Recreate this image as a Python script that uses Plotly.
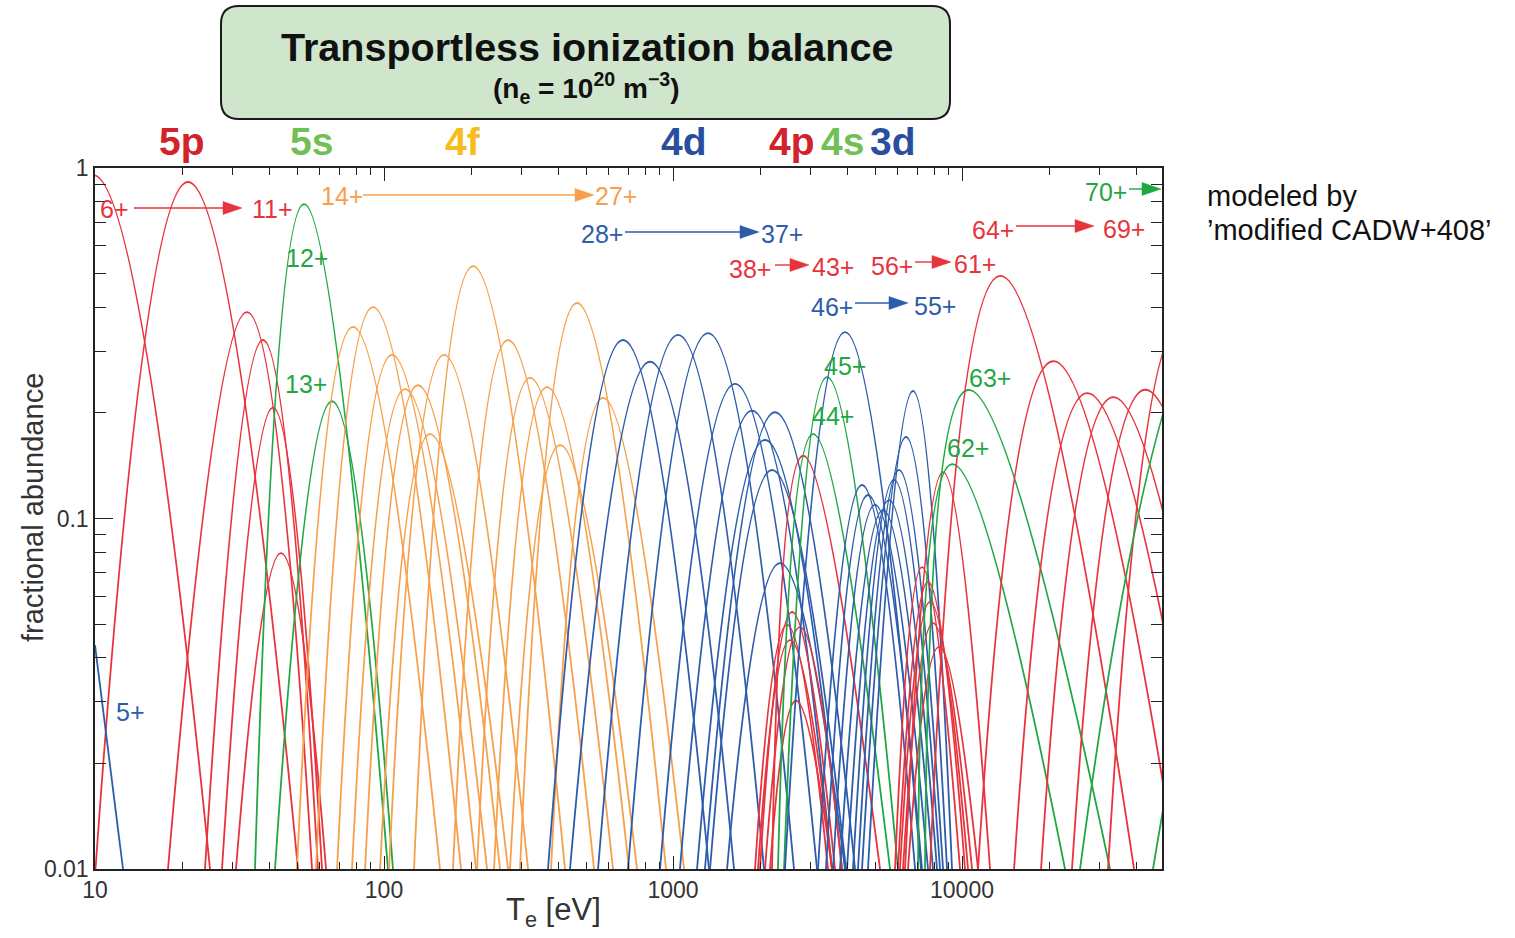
import plotly.graph_objects as go

# ---------------- data ----------------
charges = list(range(6, 72))
shells = (['5p'] * 6 + ['5s'] * 2 + ['4f'] * 14 + ['4d'] * 10 + ['4p'] * 6 + ['4s'] * 2 +
          ['3d'] * 10 + ['3p'] * 6 + ['3s'] * 2 + ['2p'] * 6 + ['2s'] * 2)

# Te [eV] where the curve leaves 0.01 on the low side, Te of the peak, peak abundance, Te back at 0.01
t_left = [4.44, 10.04, 17.89, 24.02, 27.51, 30.75,
          35.78, 41.97,
          50.0, 58.2, 68.8, 77.5, 86.0, 96.9, 104.1, 127.0, 173.3, 209.8, 240.3, 272.9, 295.6, 378.4,
          369.4, 440.1, 550.3, 698.7, 901.6, 1057, 1211, 1290, 1343, 1538,
          2201, 2000, 1922, 2081, 2166, 1968,
          2308, 2422,
          2441, 3175, 3383, 3578, 3783, 4000, 4196, 4366, 4508, 4728,
          5864, 6004, 6101, 6249, 6503, 6350,
          7043, 7447,
          7750, 11360, 15140, 18770, 24020, 32010,
          25610, 45800]
t_peak = [9.84, 20.98, 33.57, 38.13, 41.30, 44.02,
          52.87, 66.08,
          78.1, 91.6, 106.6, 118.2, 131.1, 144.3, 161.3, 203.2, 268.6, 320.1, 366.4, 406.4, 465.3, 572.6,
          671.4, 832.6, 1041, 1322, 1639, 1877, 2081, 2254, 2201, 2345,
          2817, 2581, 2480, 2750, 2664, 2540,
          3051, 3412,
          3937, 4508, 4728, 5000, 5330, 5590, 5817, 6053, 6402, 6768,
          7272, 7627, 7750, 7937, 8327, 8597,
          9235, 10490,
          13540, 20650, 27070, 33310, 42970, 56800,
          84590, 147800]
f_peak = [0.955, 0.912, 0.388, 0.323, 0.207, 0.0797,
          0.789, 0.216,
          0.352, 0.401, 0.293, 0.234, 0.240, 0.174, 0.293, 0.525, 0.323, 0.252, 0.237, 0.162, 0.412, 0.221,
          0.323, 0.280, 0.334, 0.338, 0.242, 0.203, 0.1675, 0.201, 0.1375, 0.0746,
          0.151, 0.0541, 0.0497, 0.0490, 0.0302, 0.0450,
          0.174, 0.253,
          0.340, 0.1246, 0.1167, 0.1093, 0.1057, 0.1129, 0.1288, 0.1375, 0.1708, 0.2311,
          0.0727, 0.0659, 0.0578, 0.0503, 0.0430, 0.1357,
          0.143, 0.2326,
          0.492, 0.281, 0.228, 0.222, 0.233, 0.3565,
          0.434, 0.218]
t_right = [25.0, 50.4, 56.35, 59.10, 61.03, 63.01,
           103.2, 107.4,
           156.2, 184.7, 208.1, 227.2, 252.0, 268.6, 315.1, 422.9, 532.9, 620.0, 704.4, 750.5, 945.8, 1092,
           1332, 1626, 2065, 2622, 3150, 3549, 3844, 4264, 3968, 3937,
           5204, 3635, 3439, 3844, 3549, 3549,
           5636, 6004,
           7214, 6878, 7272, 7627, 7937, 8194, 8393, 8597, 8874, 9235,
           9842, 10242, 10491, 10830, 11360, 12500,
           22720, 32520,
           39380, 55440, 70440, 85960, 111800, 136400,
           384500, 620000]

# Sn5+ tail at the left edge
ion5_te = [10.0, 12.5]
ion5_f = [0.0435, 0.01]

x_tickvals = [10, 100, 1000, 10000]
x_ticktext = ['10', '100', '1000', '10000']
y_tickvals = [0.01, 0.1, 1]
y_ticktext = ['0.01', '0.1', '1']

# ---------------- style ----------------
RED = '#E8333C'
GREEN = '#1FA744'
ORANGE = '#F7A04B'
BLUE = '#2C5CAB'
shell_color = {'5p': RED, '5s': GREEN, '4f': ORANGE, '4d': BLUE, '4p': RED, '4s': GREEN,
               '3d': BLUE, '3p': RED, '3s': GREEN, '2p': RED, '2s': GREEN}
SANS = 'Liberation Sans, Arial, Helvetica, sans-serif'

fig = go.Figure()
for q, sh, tl, tp, fp, tr in zip(charges, shells, t_left, t_peak, f_peak, t_right):
    fig.add_trace(go.Scatter(x=[tl, tp, tr], y=[0.01, fp, 0.01], mode='lines',
                             line=dict(color=shell_color[sh], width=1.8, shape='spline', smoothing=1.3),
                             name=f'{q}+', hoverinfo='name'))
fig.add_trace(go.Scatter(x=ion5_te, y=ion5_f, mode='lines', line=dict(color=BLUE, width=1.8), name='5+'))

# layout geometry (pixels)
L, R, T, B = 95, 1162, 168, 869
W, H = 1515, 938


def px(x):
    return (x - L) / (R - L)


def py(y):
    return (B - y) / (B - T)


ann = []
shapes = []


def label(text, x, y, color, size=25, family=SANS, xanchor='center'):
    ann.append(dict(text=text, x=px(x), y=py(y), xref='paper', yref='paper', showarrow=False,
                    font=dict(color=color, size=size, family=family), xanchor=xanchor, yanchor='middle'))


def arrow(x0, x1, y, color, head=19, half=6.5):
    shapes.append(dict(type='line', xref='paper', yref='paper', x0=px(x0), x1=px(x1 - head + 2),
                       y0=py(y), y1=py(y), line=dict(color=color, width=1.4)))
    shapes.append(dict(type='path', xref='paper', yref='paper',
                       path=f'M {px(x1)},{py(y)} L {px(x1 - head)},{py(y - half)} '
                            f'L {px(x1 - head)},{py(y + half)} Z',
                       fillcolor=color, line=dict(color=color, width=0.5)))


# ion labels
label('6+', 114, 209, RED); arrow(134, 242, 208, RED); label('11+', 272, 209, RED)
label('14+', 342, 196, ORANGE); arrow(363, 594, 195, ORANGE); label('27+', 616, 196, ORANGE)
label('12+', 307, 258, GREEN)
label('13+', 306, 384, GREEN)
label('28+', 602, 234, BLUE); arrow(625, 759, 232, BLUE); label('37+', 782, 234, BLUE)
label('38+', 750, 269, RED); arrow(775, 809, 265, RED); label('43+', 833, 267, RED)
label('56+', 892, 266, RED); arrow(915, 951, 262, RED); label('61+', 975, 264, RED)
label('46+', 832, 307, BLUE); arrow(855, 908, 303, BLUE); label('55+', 935, 306, BLUE)
label('45+', 845, 366, GREEN)
label('44+', 833, 416, GREEN)
label('63+', 990, 378, GREEN)
label('62+', 968, 448, GREEN)
label('64+', 993, 230, RED); arrow(1016, 1094, 226, RED); label('69+', 1124, 229, RED)
label('70+', 1106, 192, GREEN); arrow(1129, 1161, 189, GREEN)
label('5+', 130, 712, BLUE)

# shell labels above the plot
for txt, x, col in [('5p', 182, '#D2232C'), ('5s', 311, '#72BF55'), ('4f', 463, '#F9BC1E'),
                    ('4d', 684, '#2A4E9F'), ('4p', 792, '#D2232C'), ('4s', 842, '#72BF55'),
                    ('3d', 893, '#2A4E9F')]:
    label(f'<b>{txt}</b>', x, 141, col, size=39)

# title box texts
label('<b>Transportless ionization balance</b>', 587, 47, '#111111', size=39.5)
label('<b>(n<sub>e</sub> = 10<sup>20</sup> m<sup>−3</sup>)</b>', 586, 88, '#111111', size=28)

# side note
label('modeled by', 1205, 196, '#111111', size=29, xanchor='left')
label('’modified CADW+408’', 1205, 230, '#111111', size=29, xanchor='left')

# axis titles
ann.append(dict(text='fractional abundance', x=px(33), y=py(508), xref='paper', yref='paper',
                xanchor='center', yanchor='middle', showarrow=False, textangle=-90,
                font=dict(size=29, color='#333333', family=SANS)))
ann.append(dict(text='T<sub>e</sub> [eV]', x=px(553), y=py(912), xref='paper', yref='paper',
                xanchor='center', yanchor='middle', showarrow=False,
                font=dict(size=31, color='#333333', family=SANS)))

# rounded title box
x0, x1 = px(221), px(950)
yt, yb = py(6), py(119)
rx, ry = 18 / (R - L), 18 / (B - T)
path = (f'M {x0 + rx},{yt} L {x1 - rx},{yt} Q {x1},{yt} {x1},{yt - ry} L {x1},{yb + ry} '
        f'Q {x1},{yb} {x1 - rx},{yb} L {x0 + rx},{yb} Q {x0},{yb} {x0},{yb + ry} '
        f'L {x0},{yt - ry} Q {x0},{yt} {x0 + rx},{yt} Z')
shapes.insert(0, dict(type='path', path=path, xref='paper', yref='paper', fillcolor='#CFE6CD',
                      line=dict(color='#1a1a1a', width=2), layer='below'))

minor_x = [d * 10 ** k for k in range(1, 5) for d in range(2, 10)]
minor_y = [d * 10 ** k for k in (-2, -1) for d in range(2, 10)]

axis_common = dict(showline=True, linecolor='#222222', linewidth=1.5, mirror='allticks', ticks='inside',
                   tickcolor='#222222', tickwidth=1.3, showgrid=False, zeroline=False,
                   tickfont=dict(size=23, color='#333333', family=SANS), tickmode='array')

fig.update_layout(
    width=W, height=H, margin=dict(l=L, r=W - R, t=T, b=H - B),
    paper_bgcolor='white', plot_bgcolor='white', showlegend=False,
    xaxis=dict(type='log', range=[1, 4.692], tickvals=x_tickvals, ticktext=x_ticktext, ticklen=13,
               minor=dict(ticks='inside', ticklen=7, tickmode='array', tickvals=minor_x,
                          tickcolor='#222222', showgrid=False), **axis_common),
    yaxis=dict(type='log', range=[-2, 0], tickvals=y_tickvals, ticktext=y_ticktext, ticklen=18,
               minor=dict(ticks='inside', ticklen=11, tickmode='array', tickvals=minor_y,
                          tickcolor='#222222', showgrid=False), **axis_common),
    annotations=ann,
    shapes=shapes,
)

fig.write_html('out.html')
